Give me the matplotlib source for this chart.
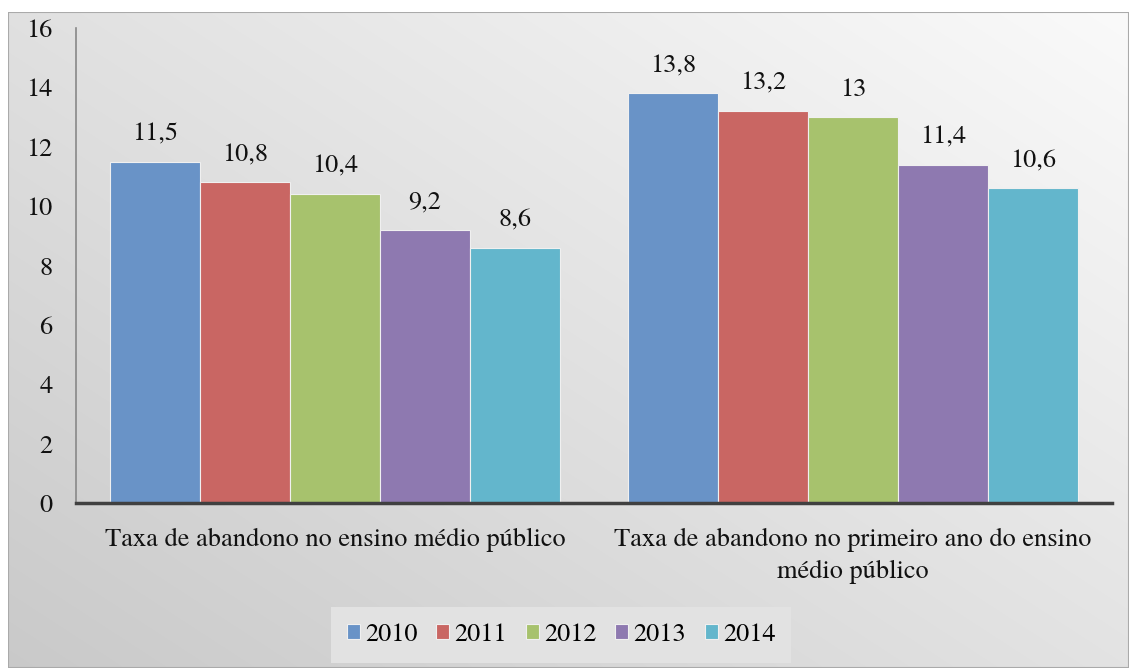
import matplotlib.pyplot as plt
import numpy as np
from matplotlib.patches import Rectangle

# dados
categorias = ['Taxa de abandono no ensino médio público',
              'Taxa de abandono no primeiro ano do ensino\nmédio público']
anos = ['2010', '2011', '2012', '2013', '2014']
valores = [
    [11.5, 13.8],
    [10.8, 13.2],
    [10.4, 13.0],
    [9.2, 11.4],
    [8.6, 10.6],
]
cores = ['#6993C7', '#C96663', '#A7C26D', '#8E79B0', '#63B6CC']

FONTE = ['TeX Gyre Termes', 'Liberation Serif', 'DejaVu Serif']
plt.rcParams['font.family'] = FONTE
TAM = 19

fig = plt.figure(figsize=(11.29, 6.68), dpi=100)
fig.patch.set_facecolor('white')

# fundo com gradiente
bg = fig.add_axes([8 / 1129, 0, 1 - 8 / 1129, 1 - 12 / 668])
gx, gy = np.meshgrid(np.linspace(0, 1, 200), np.linspace(0, 1, 200))
grad = 0.79 + 0.10 * gx + 0.09 * gy
bg.imshow(np.dstack([grad, grad, grad]), origin='lower', extent=[0, 1, 0, 1],
          aspect='auto', interpolation='bilinear')
bg.add_patch(Rectangle((0, 0), 1, 1, fill=False, edgecolor='#AAAAAA', lw=1.5,
                       transform=bg.transAxes))
bg.set_axis_off()

ax = fig.add_axes([76 / 1129, 1 - 503 / 668, (1112 - 76) / 1129, (503 - 28) / 668])
ax.patch.set_alpha(0)

x = np.arange(len(categorias))
largura = 0.1737
for i, (ano, vals) in enumerate(zip(anos, valores)):
    pos = x + (i - 2) * largura
    barras = ax.bar(pos, vals, largura, color=cores[i], edgecolor='#F0F0F0',
                    linewidth=0.8, label=ano)
    for b, v in zip(barras, vals):
        txt = ('%g' % v).replace('.', ',')
        ax.annotate(txt, (b.get_x() + b.get_width() / 2, v), xytext=(0, 11),
                    textcoords='offset points', ha='center', va='bottom',
                    fontsize=TAM, family=FONTE, color='#111111')

ax.set_xlim(-0.5, 1.5)
ax.set_ylim(0, 16)
ax.set_yticks(range(0, 17, 2))
ax.set_xticks(x)
ax.set_xticklabels(categorias, fontsize=TAM, family=FONTE, color='#111111',
                   linespacing=1.42)
for t in ax.get_yticklabels():
    t.set_family(FONTE)
ax.tick_params(axis='y', length=0, pad=17, labelsize=TAM, labelcolor='#111111')
ax.tick_params(axis='x', length=0, pad=18)

for s in ['top', 'right']:
    ax.spines[s].set_visible(False)
ax.spines['left'].set_color('#888888')
ax.spines['left'].set_linewidth(1.2)
ax.spines['bottom'].set_color('#404040')
ax.spines['bottom'].set_linewidth(2.5)

leg = fig.legend(loc='center', bbox_to_anchor=(0.497, 0.049), ncol=5,
                 prop={'family': FONTE, 'size': TAM}, frameon=True,
                 handlelength=0.5, handleheight=0.5, handletextpad=0.2,
                 columnspacing=0.7, borderpad=0.3)
leg.get_frame().set_facecolor('#E2E2E2')
leg.get_frame().set_edgecolor('none')
leg.get_frame().set_boxstyle('square')
leg.get_frame().set_alpha(1)

fig.savefig('out.png', dpi=100)
